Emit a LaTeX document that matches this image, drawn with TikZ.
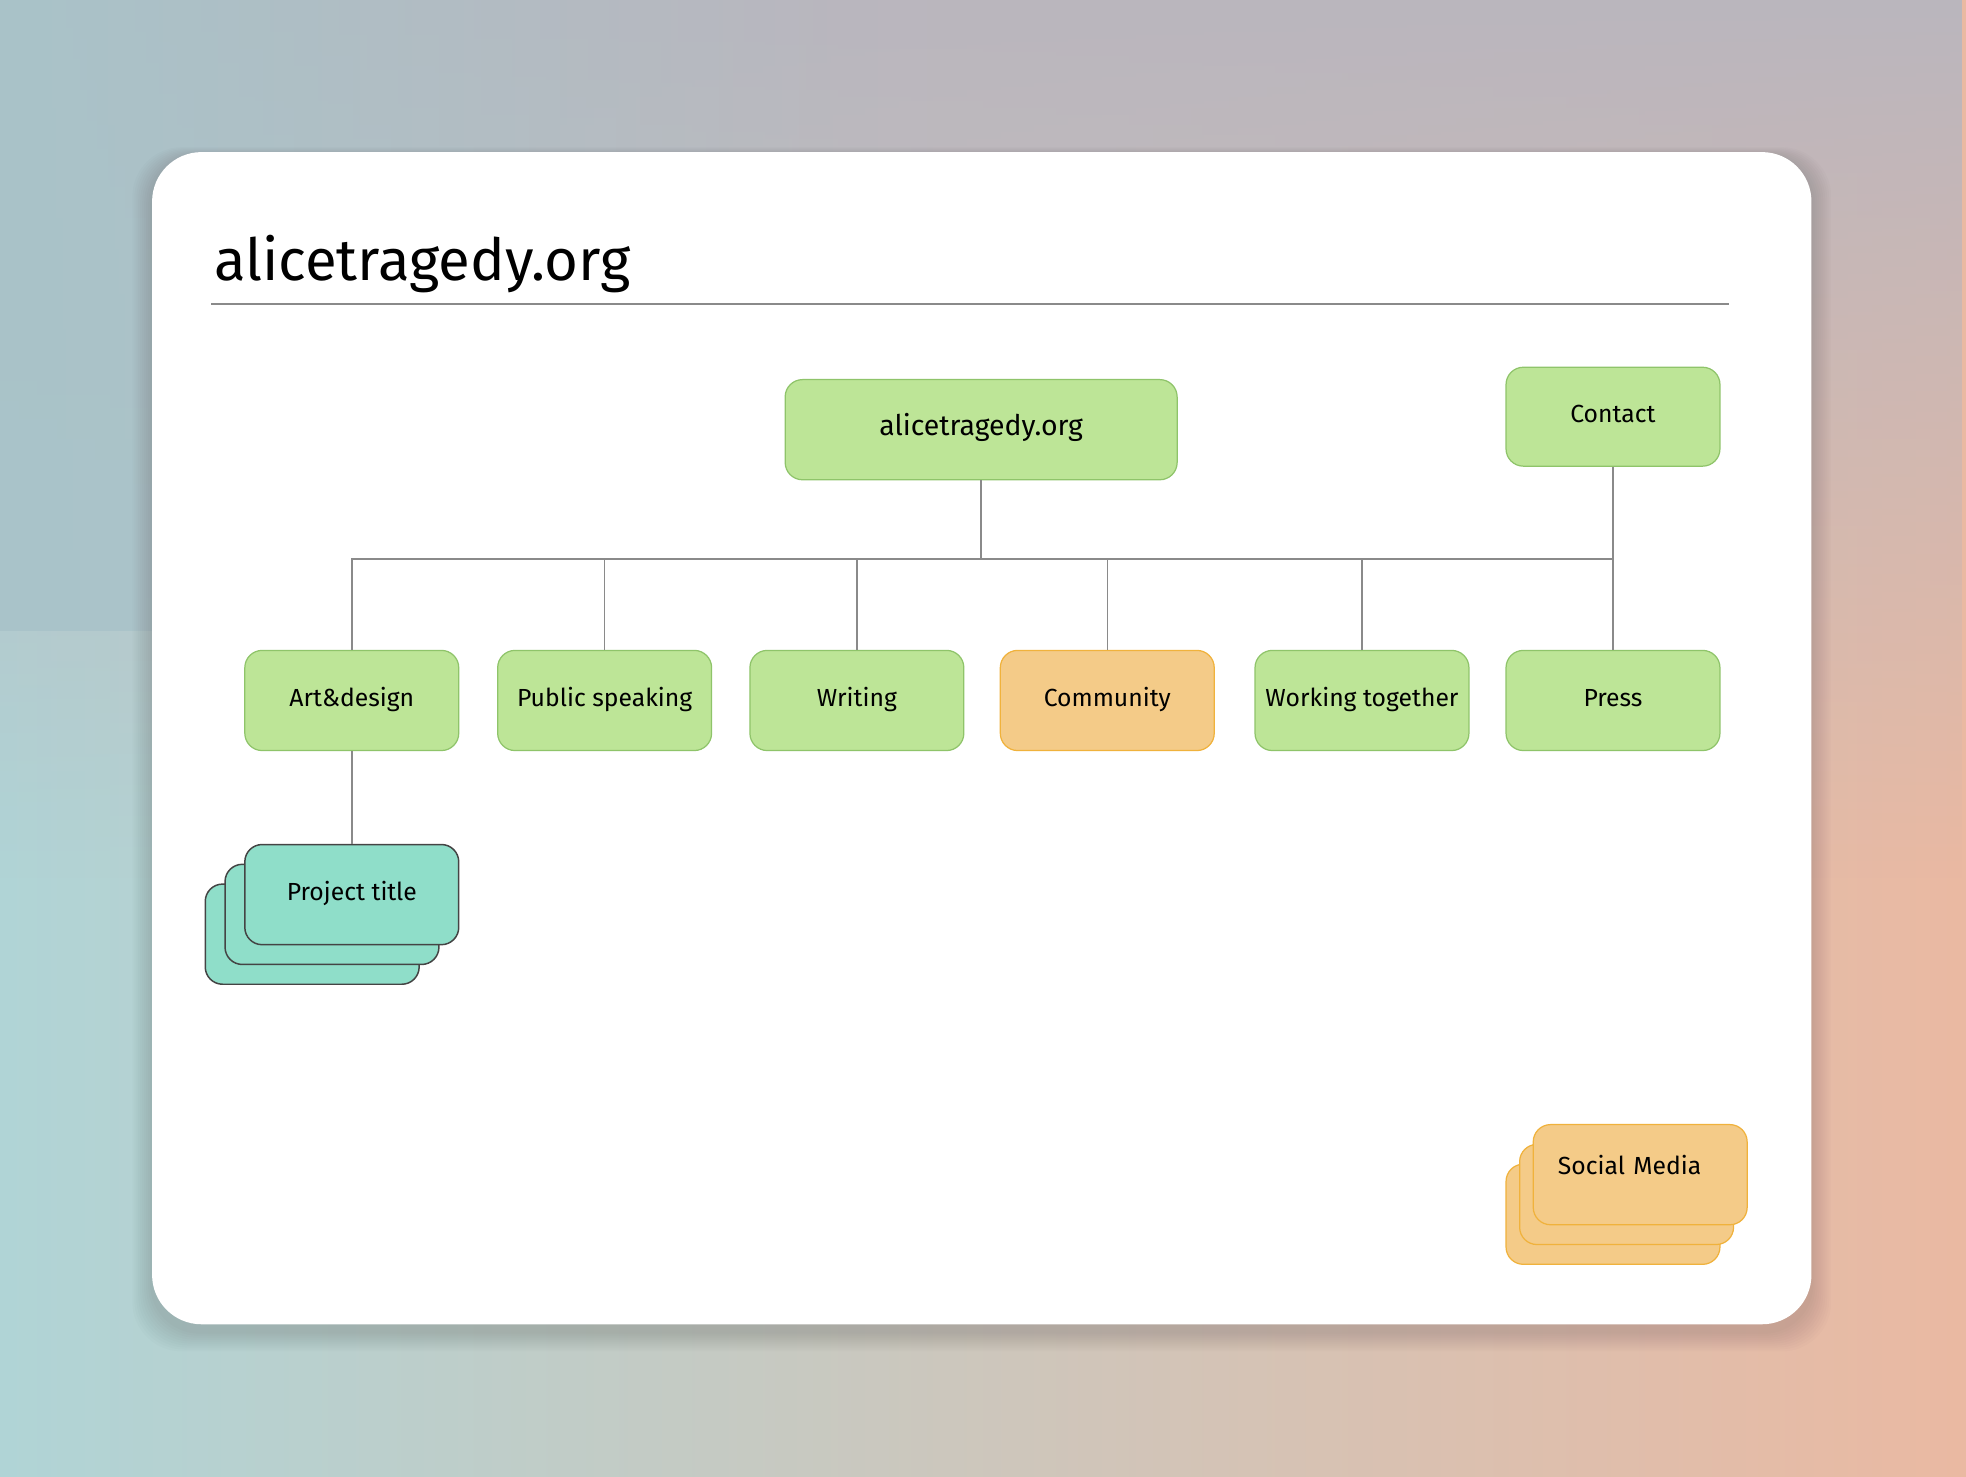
\documentclass[tikz,border=0pt]{standalone}
\usepackage{fontspec}
\usetikzlibrary{fadings}
\setmainfont{Fira Sans}
\definecolor{gfill}{HTML}{BDE597}\definecolor{gdraw}{HTML}{8FC46A}
\definecolor{ofill}{HTML}{F4CB88}\definecolor{odraw}{HTML}{F0B23C}
\definecolor{tfill}{HTML}{8FDEC9}\definecolor{tdraw}{HTML}{444444}
\definecolor{conn}{HTML}{8A8A8A}
\definecolor{bgl}{HTML}{B0D4D6}\definecolor{bgr}{HTML}{EAB9A2}\definecolor{bgt}{HTML}{BAB6BE}\definecolor{bgtl}{HTML}{A9C3C9}
\tikzset{
 box/.style={rounded corners=14pt,minimum width=173pt,minimum height=81pt,inner sep=0pt,font=\fontsize{20}{24}\selectfont,line width=1pt,text height=14pt,text depth=4pt},
 gbox/.style={box,fill=gfill,draw=gdraw},
 obox/.style={box,fill=ofill,draw=odraw},
 tbox/.style={box,fill=tfill,draw=tdraw,line width=1.2pt},
 link/.style={conn,line width=1.2pt}}
\begin{document}
\begin{tikzpicture}[x=1pt,y=-1pt]
\shade[left color=bgl,right color=bgr] (-10,-10) rectangle (1580,1184);
\fill[bgt,path fading=south] (-10,-10) rectangle (1580,700);
\fill[bgtl,path fading=east] (-10,-10) rectangle (700,500);
\useasboundingbox (0,0) rectangle (1568,1174);
\foreach \i in {1,...,10}{\fill[black,opacity=0.012,rounded corners=40pt] (113-\i*1.6,113+4-\i*0.8) rectangle (1455+\i*1.6,1061+6+\i*1.6);}
\fill[white,rounded corners=40pt] (113,113) rectangle (1455,1061);
\node[anchor=base west,inner sep=0pt,font=\fontsize{47}{52}\selectfont] (title) at (163,217) {alicetragedy.org};
\draw[conn,line width=1.3pt] (161,236) -- (1388,236);
\node[gbox,minimum width=317pt,font=\fontsize{23}{26}\selectfont] (root) at (783.5,337.5) {alicetragedy.org};
\node[gbox,minimum height=80pt] (contact) at (1294.5,327) {Contact};
\node[gbox] (art) at (274.5,556.5) {Art\&design};
\node[gbox] (pub) at (479,556.5) {Public speaking};
\node[gbox] (wri) at (683,556.5) {Writing};
\node[obox] (com) at (885.5,556.5) {Community};
\node[gbox] (work) at (1091.5,556.5) {Working together};
\node[gbox] (press) at (1294.5,556.5) {Press};
\coordinate (bus) at (783.5,442);
\draw[link] (root.south) -- (bus);
\draw[link] (art.north) |- (bus -| press.north) -- (press.north);
\foreach \n in {pub,wri,com,work}{\draw[link] (\n.north) -- (\n.north |- bus);}
\draw[link] (contact.south) -- (press.north);
\node[tbox] (p3) at (242.5,745.5) {};
\node[tbox] (p2) at (258.5,729.5) {};
\node[tbox] (p1) at (274.5,713.5) {Project title};
\draw[link] (art.south) -- (p1.north);
\node[obox] (s3) at (1294.5,972) {};
\node[obox] (s2) at (1305.5,956) {};
\node[obox,text width=133pt,align=left] (s1) at (1316.5,940) {\raisebox{5pt}{Social Media}};
\end{tikzpicture}
\end{document}
